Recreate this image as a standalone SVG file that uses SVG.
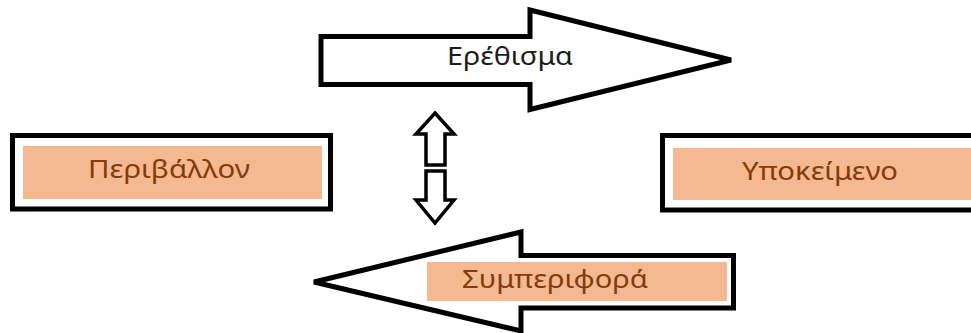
<svg xmlns="http://www.w3.org/2000/svg" width="971" height="333" viewBox="0 0 971 333">
  <style>
    .outline { fill: #ffffff; stroke: #000000; stroke-width: 5; stroke-linejoin: miter; }
    .thin { fill: #ffffff; stroke: #000000; stroke-width: 3.5; stroke-linejoin: miter; }
    .band { fill: #f4b990; }
    .label { font-family: "Noto Sans", "Open Sans", "DejaVu Sans", sans-serif; font-size: 26px; }
    .brown { fill: #843c0c; }
    .dark { fill: #1c1c1c; }
  </style>
  <rect width="971" height="333" fill="#ffffff"/>

  <g id="connectors">
    <!-- stimulus arrow pointing right -->
    <g id="arrow-stimulus">
      <polygon class="outline" points="321,36.5 530,36.5 530,10 731,60 530,109.5 530,84.5 321,84.5"/>
      <text class="label dark" x="447" y="65" textLength="126" lengthAdjust="spacingAndGlyphs">Ερέθισμα</text>
    </g>
    <!-- behaviour arrow pointing left -->
    <g id="arrow-behaviour">
      <polygon class="outline" points="733.5,255.5 521,255.5 521,232 314,282 521,331 521,308 733.5,308"/>
      <rect class="band" x="427" y="262" width="300" height="39"/>
      <text class="label brown" x="462" y="288" textLength="186" lengthAdjust="spacingAndGlyphs">Συμπεριφορά</text>
    </g>
    <!-- two-way exchange arrows -->
    <g id="arrow-exchange">
      <polygon class="thin" points="435,113 454,134 445,134 445,165 426,165 426,134 416,134"/>
      <polygon class="thin" points="426,171 445,171 445,200 454,200 435,223 416,200 426,200"/>
    </g>
  </g>

  <g id="node-environment">
    <rect class="outline" x="12.5" y="135.5" width="318" height="73.5"/>
    <rect class="band" x="23" y="146" width="299" height="53"/>
    <text class="label brown" x="88" y="178" textLength="162" lengthAdjust="spacingAndGlyphs">Περιβάλλον</text>
  </g>

  <g id="node-subject">
    <rect class="outline" x="662.5" y="135.5" width="330" height="74.5"/>
    <rect class="band" x="673" y="148" width="310" height="52"/>
    <text class="label brown" x="742" y="180" textLength="156" lengthAdjust="spacingAndGlyphs">Υποκείμενο</text>
  </g>
</svg>
